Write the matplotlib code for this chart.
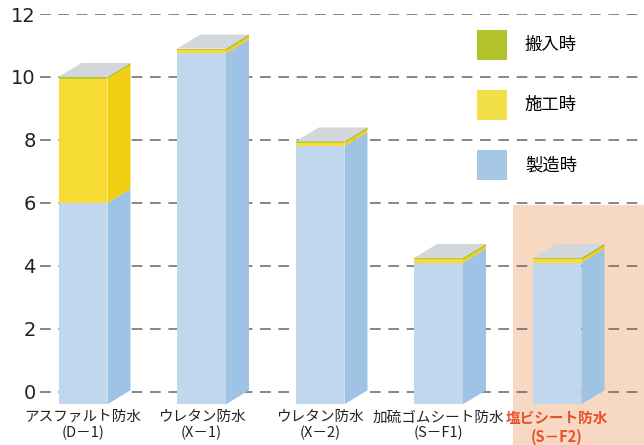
import matplotlib
matplotlib.use('Agg')
import matplotlib.pyplot as plt
from matplotlib.patches import Polygon, Rectangle, Patch

plt.rcParams['font.family'] = ['Noto Sans CJK JP', 'DejaVu Sans']

# data
categories = ['アスファルト防水\n(D－1)', 'ウレタン防水\n(X－1)', 'ウレタン防水\n(X－2)',
              '加硫ゴムシート防水\n(S－F1)', '塩ビシート防水\n(S－F2)']
seizo = [6.0, 10.75, 7.8, 4.1, 4.1]      # 製造時
seko = [3.95, 0.1, 0.1, 0.1, 0.1]        # 施工時
hannyu = [0.05, 0.05, 0.05, 0.05, 0.05]  # 搬入時
series_labels = ['製造時', '施工時', '搬入時']
yticks = [0, 2, 4, 6, 8, 10, 12]
highlight = 4

# styles
front_cols = ['#c0d7ee', '#f7dc35', '#b9c92e']
side_cols = ['#9fc3e5', '#f0cf12', '#9db521']
legend_cols = ['#a6c8e5', '#f2e046', '#b3c22a']
top_col = '#d3d7dc'
width = 0.413
dx, dy = 0.194, 0.444
drop = 0.4

fig = plt.figure(figsize=(6.44, 4.45), dpi=100)
ax = fig.add_axes([40 / 644, 1 - 409 / 445, 604 / 644, 395 / 445])
ax.set_xlim(-0.363, 4.734)
ax.set_ylim(-0.55, 12)

# highlighted column background
ax.add_patch(Rectangle((highlight - 0.371, -1.7), 1.2, 1.7 + 5.94,
                       facecolor='#f7d9c3', edgecolor='none', zorder=0, clip_on=False))

for y in yticks:
    ax.axhline(y, color='#666666', lw=1.1, ls=(0, (7, 5)), zorder=0.5)

for i in range(len(categories)):
    xl = i - width / 2
    xr = i + width / 2
    bottom = -drop
    segs = [seizo[i], seko[i], hannyu[i]]
    for k, v in enumerate(segs):
        h = v + drop if k == 0 else v
        top = bottom + h
        ax.bar(i, h, width, bottom=bottom, color=front_cols[k], edgecolor='none', zorder=2)
        ax.add_patch(Polygon([(xr, bottom), (xr + dx, bottom + dy), (xr + dx, top + dy), (xr, top)],
                             closed=True, facecolor=side_cols[k], edgecolor='none', zorder=2))
        bottom = top
    ax.add_patch(Polygon([(xl, bottom), (xl + dx, bottom + dy), (xr + dx, bottom + dy), (xr, bottom)],
                         closed=True, facecolor=top_col, edgecolor='none', zorder=2))

ax.set_yticks(yticks)
ax.set_yticklabels([str(t) for t in yticks], fontsize=14, color='#222222',
                   family=['Liberation Sans Narrow', 'DejaVu Sans'])
ax.set_xticks(range(len(categories)))
ax.set_xticklabels(categories, fontsize=10.5, color='#222222', linespacing=1.15)
ax.tick_params(axis='both', length=0)
ax.tick_params(axis='x', pad=1)
ax.tick_params(axis='y', pad=3)
lab = ax.get_xticklabels()[highlight]
lab.set_color('#e8502a')
lab.set_fontweight('bold')
for s in ax.spines.values():
    s.set_visible(False)

handles = [Patch(facecolor=legend_cols[k], edgecolor='none') for k in (2, 1, 0)]
labels = [series_labels[k] for k in (2, 1, 0)]
ax.legend(handles, labels, loc='upper left', bbox_to_anchor=(477 / 644, 1 - 30 / 445),
          bbox_transform=fig.transFigure, frameon=False, fontsize=12.5, borderpad=0,
          handlelength=1.73, handleheight=2.28, labelspacing=1.73, handletextpad=1.03,
          borderaxespad=0)

fig.savefig('out.png', dpi=100)
